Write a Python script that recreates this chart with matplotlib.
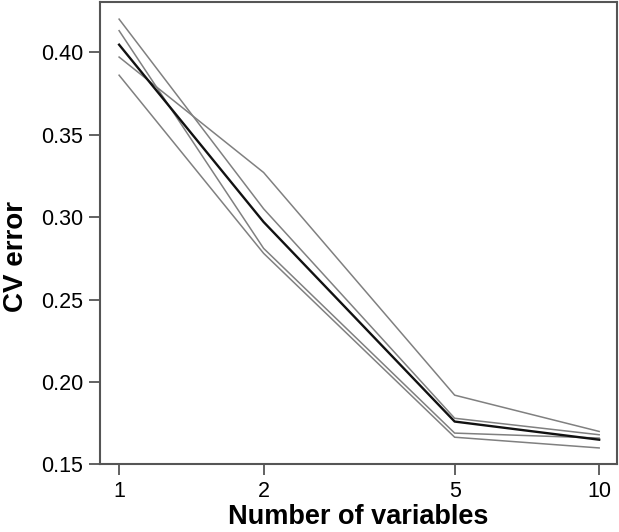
import matplotlib
matplotlib.use("Agg")
import matplotlib.pyplot as plt
from matplotlib.ticker import FixedLocator, FixedFormatter, NullLocator

n_var = [1, 2, 5, 10]
rep_a = [0.420, 0.305, 0.178, 0.168]
rep_b = [0.413, 0.281, 0.169, 0.166]
rep_c = [0.397, 0.327, 0.192, 0.170]
rep_e = [0.386, 0.278, 0.1665, 0.160]
mean_cv = [0.4045, 0.297, 0.176, 0.165]
x_ticks = [1, 2, 5, 10]
x_tick_labels = ["1", "2", "5", "10"]
y_ticks = [0.15, 0.20, 0.25, 0.30, 0.35, 0.40]
y_tick_labels = ["0.15", "0.20", "0.25", "0.30", "0.35", "0.40"]

plt.rcParams['font.family'] = ['Liberation Sans', 'DejaVu Sans']

fig = plt.figure(figsize=(6.19, 5.32), dpi=100)
ax = fig.add_axes([0.161, 0.127, 0.836, 0.869])

for s in (rep_a, rep_b, rep_c, rep_e):
    ax.plot(n_var, s, color='#808080', lw=1.1)
ax.plot(n_var, mean_cv, color='#111111', lw=1.7)

ax.set_xscale('log')
ax.set_xlim(0.911, 10.9)
ax.set_ylim(0.15, 0.4303)
ax.xaxis.set_major_locator(FixedLocator(x_ticks))
ax.xaxis.set_major_formatter(FixedFormatter(x_tick_labels))
ax.xaxis.set_minor_locator(NullLocator())
ax.set_yticks(y_ticks)
ax.set_yticklabels(y_tick_labels)

for sp in ax.spines.values():
    sp.set_color('#555555')
    sp.set_linewidth(1.5)
ax.tick_params(axis='both', direction='out', length=8, width=1.3, color='#555555',
               labelsize=15.5, pad=4)

ax.set_xlabel('Number of variables', fontsize=19.5, fontweight='bold', labelpad=1.5)
ax.set_ylabel('CV error', fontsize=20, fontweight='bold')
ax.yaxis.set_label_coords(-0.136, 0.449)

fig.savefig('out.png', dpi=100)
